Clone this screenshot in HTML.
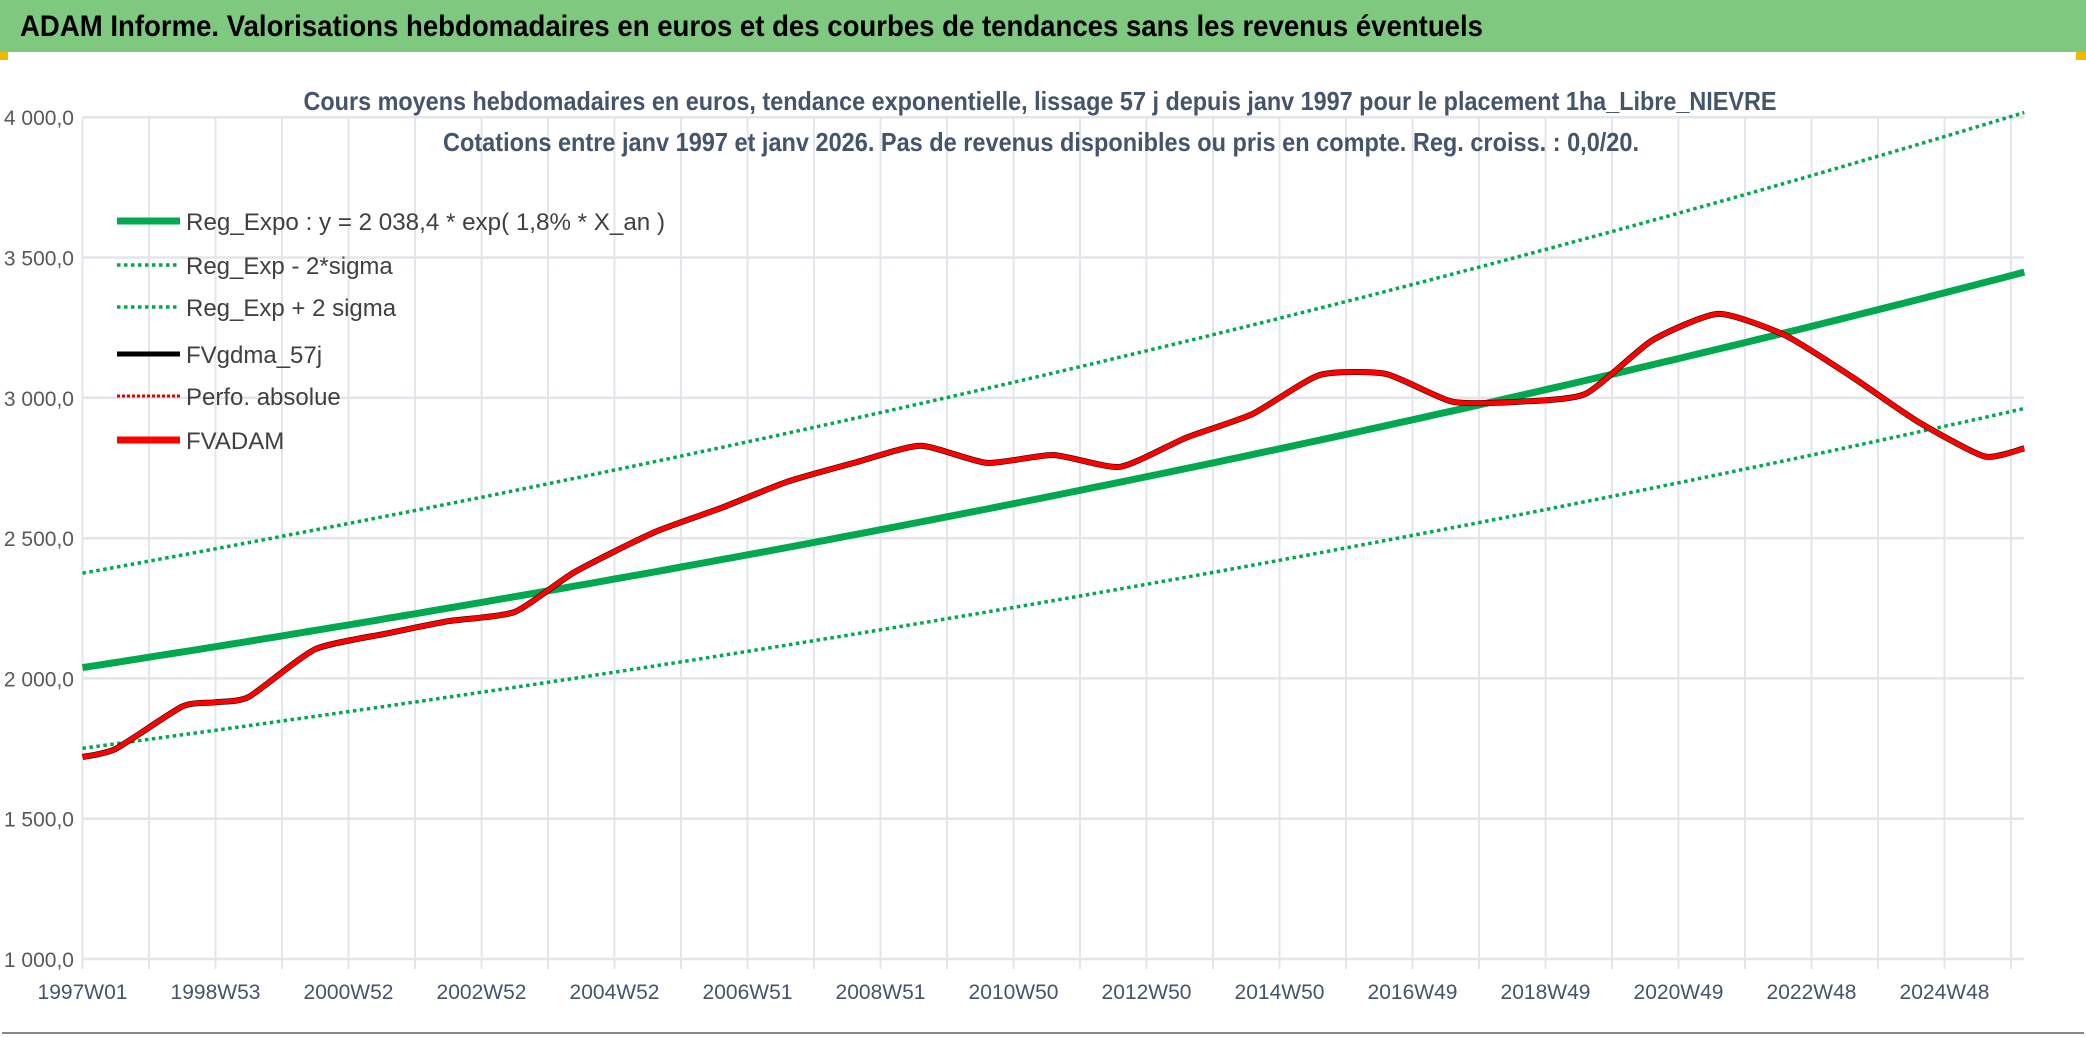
<!DOCTYPE html>
<html><head><meta charset="utf-8"><style>
html,body{margin:0;padding:0;background:#fff;}
svg{display:block;font-family:"Liberation Sans Narrow","Liberation Sans",sans-serif;}
</style></head><body>
<svg id="chart" width="2086" height="1038" viewBox="0 0 2086 1038">
<rect x="0" y="0" width="2086" height="1038" fill="#fff"/>
<rect x="0" y="0" width="2086" height="52" fill="#7ec87f"/>
<rect x="0" y="52" width="8" height="8" fill="#f2b800"/>
<rect x="2076" y="52" width="10" height="8" fill="#f2b800"/>
<text x="20" y="36" font-size="30" font-weight="bold" fill="#000" textLength="1463" lengthAdjust="spacingAndGlyphs">ADAM Informe. Valorisations hebdomadaires en euros et des courbes de tendances sans les revenus éventuels</text>
<line x1="2" y1="1033" x2="2084" y2="1033" stroke="#888" stroke-width="2"/>
<g id="grid"></g>
<text x="1040" y="110" text-anchor="middle" font-size="26" font-weight="bold" fill="#44546a" textLength="1473" lengthAdjust="spacingAndGlyphs">Cours moyens hebdomadaires en euros, tendance exponentielle, lissage 57 j depuis janv 1997 pour le placement 1ha_Libre_NIEVRE</text>
<text x="1041" y="151" text-anchor="middle" font-size="26" font-weight="bold" fill="#44546a" textLength="1196" lengthAdjust="spacingAndGlyphs">Cotations entre janv 1997 et janv 2026. Pas de revenus disponibles ou pris en compte. Reg. croiss. : 0,0/20.</text>
<g id="series"></g>
<g id="legend" font-size="24" fill="#404040">
<g><line x1="117" y1="221" x2="180" y2="221" stroke="#00a84f" stroke-width="7"/><text x="186" y="230" textLength="479" lengthAdjust="spacingAndGlyphs">Reg_Expo : y = 2 038,4 * exp( 1,8% *  X_an )</text></g>
<g><line x1="117" y1="265" x2="180" y2="265" stroke="#00a84f" stroke-width="3.5" stroke-dasharray="3.5 3.5"/><text x="186" y="274">Reg_Exp - 2*sigma</text></g>
<g><line x1="117" y1="307" x2="180" y2="307" stroke="#00a84f" stroke-width="3.5" stroke-dasharray="3.5 3.5"/><text x="186" y="316">Reg_Exp + 2 sigma</text></g>
<g><line x1="117" y1="354" x2="180" y2="354" stroke="#000" stroke-width="5"/><text x="186" y="363">FVgdma_57j</text></g>
<g><line x1="117" y1="396" x2="180" y2="396" stroke="#e00000" stroke-width="3" stroke-dasharray="3 2"/><text x="186" y="405">Perfo. absolue</text></g>
<g><line x1="117" y1="440" x2="180" y2="440" stroke="#ff0000" stroke-width="7"/><text x="186" y="449">FVADAM</text></g>
</g>
</svg>
<script>
const years = [1997.0,1997.5,1998.5,1999.0,1999.5,2000.5,2001.6,2002.5,2003.5,2004.4,2005.6,2006.6,2007.6,2008.6,2009.6,2010.6,2011.6,2012.6,2013.6,2014.6,2015.6,2016.6,2017.6,2018.6,2019.6,2020.6,2021.6,2022.6,2023.6,2024.6,2025.6,2026.2];
const fvadam = [1720,1749,1900,1915,1934,2104,2161,2204,2237,2379,2521,2607,2701,2768,2829,2768,2796,2754,2858,2943,3081,3085,2986,2986,3014,3204,3299,3223,3076,2915,2791,2820];
const regA = 2038.4;
const regRate = 0.018;
const sigmaUp = 1.165;
const sigmaDown = 0.859;
const yTicks = [1000,1500,2000,2500,3000,3500,4000];
const yTickLabels = ["1 000,0","1 500,0","2 000,0","2 500,0","3 000,0","3 500,0","4 000,0"];
const xLabels = ["1997W01","1998W53","2000W52","2002W52","2004W52","2006W51","2008W51","2010W50","2012W50","2014W50","2016W49","2018W49","2020W49","2022W48","2024W48"];
const xLabelYears = [1997,1999,2001,2003,2005,2007,2009,2011,2013,2015,2017,2019,2021,2023,2025];

const NS="http://www.w3.org/2000/svg";
const X0=82.5, XPY=66.5, Y1000=959, YPER500=140.3;
const sx=y=>X0+(y-1997)*XPY;
const sy=v=>Y1000-(v-1000)/500*YPER500;
const xEnd=2026.2;
function mk(tag,attrs,parent){const e=document.createElementNS(NS,tag);for(const k in attrs)e.setAttribute(k,attrs[k]);parent.appendChild(e);return e;}
const grid=document.getElementById('grid');
for(let y=1997;y<=2026;y++){
  const l=mk('line',{x1:sx(y),x2:sx(y),y1:sy(4000),y2:sy(1000)+10,stroke:'#e3e5ea','stroke-width':2},grid);
  
  
}
yTicks.forEach((v,i)=>{
  const l=mk('line',{x1:X0,x2:sx(xEnd),y1:sy(v),y2:sy(v),stroke:'#e3e5ea','stroke-width':2.5},grid);
  
  
  const t=mk('text',{x:74,y:sy(v)+8,'text-anchor':'end','font-size':21,fill:'#595959'},grid);
  t.textContent=yTickLabels[i];
  
  
});
xLabels.forEach((s,i)=>{
  const t=mk('text',{x:sx(xLabelYears[i]),y:999,'text-anchor':'middle','font-size':21,fill:'#44546a'},grid);
  t.textContent=s;
  
  
});
const ser=document.getElementById('series');
function trend(f){let p=[];for(let y=1997;y<=xEnd+1e-9;y+=0.2){p.push(sx(y).toFixed(1)+','+sy(regA*Math.exp(regRate*(y-1997))*f).toFixed(1));}return p.join(' ');}
const up=mk('polyline',{points:trend(sigmaUp),fill:'none',stroke:'#00a84f','stroke-width':3.5,'stroke-dasharray':'3.5 3.5'},ser);


const dn=mk('polyline',{points:trend(sigmaDown),fill:'none',stroke:'#00a84f','stroke-width':3.5,'stroke-dasharray':'3.5 3.5'},ser);


const rg=mk('polyline',{points:trend(1),fill:'none',stroke:'#00a84f','stroke-width':7},ser);


function smooth(xs,ys){
  const P=xs.map((x,i)=>[sx(x),sy(ys[i])]);
  let d='M'+P[0][0].toFixed(1)+','+P[0][1].toFixed(1);
  const t=0.1;
  for(let i=0;i<P.length-1;i++){
    const p0=P[Math.max(0,i-1)],p1=P[i],p2=P[i+1],p3=P[Math.min(P.length-1,i+2)];
    const c1=[p1[0]+(p2[0]-p0[0])*t,p1[1]+(p2[1]-p0[1])*t];
    const c2=[p2[0]-(p3[0]-p1[0])*t,p2[1]-(p3[1]-p1[1])*t];
    d+=' C'+c1[0].toFixed(1)+','+c1[1].toFixed(1)+' '+c2[0].toFixed(1)+','+c2[1].toFixed(1)+' '+p2[0].toFixed(1)+','+p2[1].toFixed(1);
  }
  return d;
}
const pd=smooth(years,fvadam);
const bk=mk('path',{d:pd,fill:'none',stroke:'#000','stroke-width':6,'stroke-linejoin':'round'},ser);


const rd=mk('path',{d:pd,fill:'none',stroke:'#ff0000','stroke-width':5,'stroke-linejoin':'round'},ser);


</script>
</body></html>
